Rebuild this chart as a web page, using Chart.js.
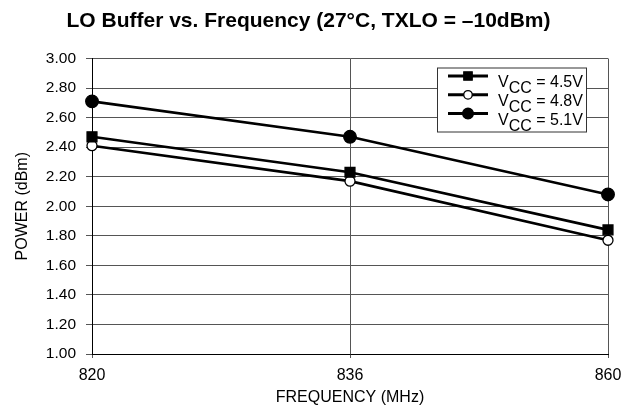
<!DOCTYPE html>
<html>
<head>
<meta charset="utf-8">
<script src="https://cdn.jsdelivr.net/npm/chart.js@4/dist/chart.umd.min.js"></script>
<style>
  html, body { margin: 0; padding: 0; background: #fff; }
  #wrap { width: 624px; height: 406px; }
</style>
</head>
<body>
<div id="wrap"><canvas id="c" width="624" height="406"></canvas></div>
<script>
const titleText = 'LO Buffer vs. Frequency (27\u00B0C, TXLO = \u201310dBm)';
const xTitle = 'FREQUENCY (MHz)';
const yTitle = 'POWER (dBm)';
const frequencies = ['820', '836', '860'];
const yTickValues = [1.00, 1.20, 1.40, 1.60, 1.80, 2.00, 2.20, 2.40, 2.60, 2.80, 3.00];
const seriesLabels = ['VCC = 4.5V', 'VCC = 4.8V', 'VCC = 5.1V'];
const vcc45 = [2.47, 2.23, 1.84];
const vcc48 = [2.41, 2.17, 1.77];
const vcc51 = [2.71, 2.47, 2.08];

const FONT = "'Liberation Sans', Arial, Helvetica, sans-serif";

const markerStyles = [
  { pointStyle: 'rect', radius: 7, fill: '#000' },
  { pointStyle: 'circle', radius: 5, fill: '#fff' },
  { pointStyle: 'circle', radius: 6.3, fill: '#000' }
];
const seriesData = [vcc45, vcc48, vcc51];

const datasets = seriesData.map((d, i) => ({
  label: seriesLabels[i],
  data: d,
  borderColor: '#000',
  borderWidth: 2.6,
  pointStyle: markerStyles[i].pointStyle,
  pointRadius: markerStyles[i].radius,
  pointHoverRadius: markerStyles[i].radius,
  pointBackgroundColor: markerStyles[i].fill,
  pointBorderColor: '#000',
  pointBorderWidth: 1.3,
  tension: 0,
  fill: false
}));

function drawMarker(ctx, style, x, y, r) {
  ctx.save();
  ctx.fillStyle = style.fill;
  ctx.strokeStyle = '#000';
  ctx.lineWidth = 1.3;
  ctx.beginPath();
  if (style.pointStyle === 'rect') {
    const s = r * Math.SQRT1_2;
    ctx.rect(x - s, y - s, 2 * s, 2 * s);
  } else {
    ctx.arc(x, y, r, 0, Math.PI * 2);
  }
  ctx.fill();
  ctx.stroke();
  ctx.restore();
}

const subLegend = {
  id: 'subLegend',
  afterDraw(chart) {
    const ctx = chart.ctx;
    const a = chart.chartArea;
    const bx = a.right - 171, by = a.top + 9, bw = 149, bh = 64;
    ctx.save();
    ctx.fillStyle = '#fff';
    ctx.fillRect(bx, by, bw, bh);
    ctx.strokeStyle = '#333';
    ctx.lineWidth = 1;
    ctx.strokeRect(bx + 0.5, by + 0.5, bw, bh);
    chart.data.datasets.forEach((ds, i) => {
      const ly = by + 8.5 + i * 18.8;
      ctx.strokeStyle = '#000';
      ctx.lineWidth = 3;
      ctx.beginPath();
      ctx.moveTo(bx + 11, ly);
      ctx.lineTo(bx + 51, ly);
      ctx.stroke();
      drawMarker(ctx, markerStyles[i], bx + 31, ly, markerStyles[i].radius * 0.85);
      ctx.fillStyle = '#000';
      ctx.font = '16px ' + FONT;
      ctx.textBaseline = 'alphabetic';
      ctx.textAlign = 'left';
      const lbl = ds.label;
      let tx = bx + 61;
      const p1 = lbl.slice(0, 1), p2 = lbl.slice(1, 3), p3 = lbl.slice(3);
      ctx.fillText(p1, tx, ly + 11);
      tx += ctx.measureText(p1).width;
      ctx.fillText(p2, tx, ly + 17);
      tx += ctx.measureText(p2).width;
      ctx.fillText(p3, tx, ly + 11);
    });
    ctx.restore();
  }
};

new Chart(document.getElementById('c'), {
  type: 'line',
  data: { labels: frequencies, datasets },
  plugins: [subLegend],
  options: {
    responsive: false,
    animation: false,
    events: [],
    layout: { padding: { left: 9, right: 16, top: 0, bottom: 0 } },
    plugins: {
      legend: { display: false },
      tooltip: { enabled: false },
      title: {
        display: true,
        text: titleText,
        color: '#000',
        font: { family: FONT, size: 21, weight: 'bold', lineHeight: 1.2 },
        padding: { top: 8.4, bottom: 24.9 }
      }
    },
    scales: {
      x: {
        type: 'category',
        offset: false,
        grid: { color: '#555', lineWidth: 1, tickLength: 4, drawTicks: true, tickColor: '#555' },
        border: { color: '#000', width: 1 },
        ticks: { color: '#000', font: { family: FONT, size: 16 }, padding: 8, maxRotation: 0, autoSkip: false },
        title: { display: true, text: xTitle, color: '#000', font: { family: FONT, size: 16, lineHeight: 1 }, padding: { top: 0, bottom: 0 } },
        afterFit(s) { s.height = 52; s.paddingRight = 0; s.paddingLeft = 0; }
      },
      y: {
        min: 1, max: 3,
        afterBuildTicks(s) { s.ticks = yTickValues.map(v => ({ value: v })); },
        grid: { color: '#555', lineWidth: 1, tickLength: 6, tickColor: '#555' },
        border: { color: '#000', width: 1 },
        ticks: { color: '#000', font: { family: FONT, size: 15.5 }, padding: 10, callback: v => Number(v).toFixed(2) },
        title: { display: true, text: yTitle, color: '#000', font: { family: FONT, size: 16, lineHeight: 1.2 }, padding: { top: 4, bottom: 4 } },
        afterFit(s) { s.width = 83; }
      }
    }
  }
});
</script>
</body>
</html>
